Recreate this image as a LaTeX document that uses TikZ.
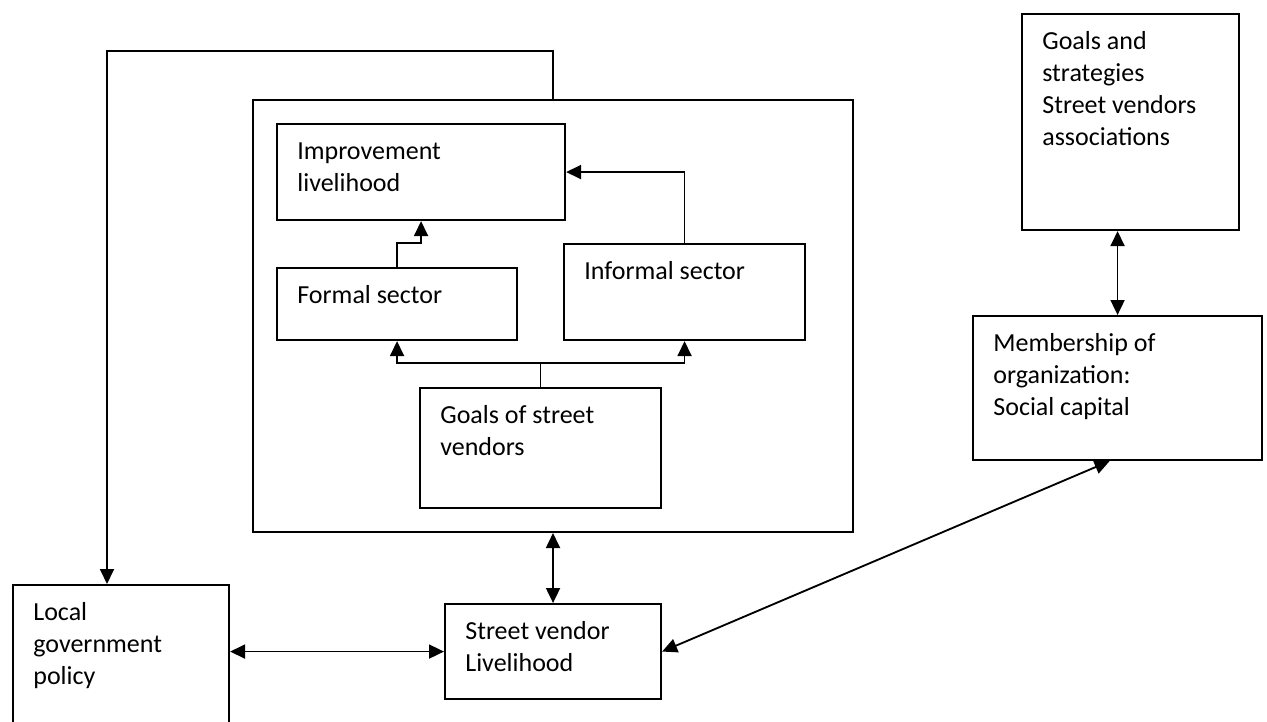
\documentclass[tikz,border=0pt]{standalone}
\usepackage{fontspec}
\setmainfont{Carlito}
\usetikzlibrary{arrows.meta, calc}

\begin{document}
\begin{tikzpicture}[x=0.02cm, y=-0.02cm,
    font=\fontsize{14.8pt}{18.2pt}\selectfont,
    box/.style={draw, line width=1.2pt, anchor=north west, inner sep=0pt},
    boxtext/.style={anchor=north west, align=left, inner sep=0pt},
    wire/.style={line width=1.05pt},
    link/.style={wire, -{Triangle[length=0.3cm, width=0.28cm]}},
    twoway/.style={wire, {Triangle[length=0.3cm, width=0.28cm]}-{Triangle[length=0.3cm, width=0.28cm]}}]
  \useasboundingbox (0,0) rectangle (1267,721);
  \clip (0,0) rectangle (1267,721);

  % A pic for a framed box with its text in the top left corner:
  %   #1 = width, #2 = height (both in px units), #3 = text
  \tikzset{
    pics/textbox/.style n args={3}{
      code={
        \node[box, minimum width=#1*0.02cm, minimum height=#2*0.02cm] (-box) at (0,0) {};
        \node[boxtext] (-text) at (21,13.6) {\strut #3};
      }
    }
  }

  % outer frame round the inner boxes
  \node[box, minimum width=12cm, minimum height=8.64cm] (frame) at (252,99) {};

  \foreach \nm/\bx/\by/\bw/\bh/\txt in {
    imp/276/123/288/96/Improvement\\livelihood,
    formal/276/267/240/72/Formal sector,
    informal/563/243/241/96/Informal sector,
    goals/419/387/241/120/Goals of street\\vendors,
    local/12/584/216/150/Local\\government\\policy,
    svl/444/603/216/95/Street vendor\\Livelihood,
    gsa/1021/13/217/216/Goals and\\strategies\\Street vendors\\associations,
    mem/972/315/289/144/Membership of\\organization:\\Social capital
  }{
    \pic (\nm) at (\bx,\by) {textbox={\bw}{\bh}{\txt}};
  }

  % inside the frame
  \draw[link] (formal-box.north) -- ++(0,-24) -| (imp-box.south);
  \draw[link] (informal-box.north) |- (imp-box.east);
  \draw[wire] (goals-box.north) -- ++(0,-24) coordinate (split);
  \draw[link] (split) -| (formal-box.south);
  \draw[link] (split) -| (informal-box.south);

  % round the frame
  \coordinate (bend) at (107,51);
  \coordinate (govin) at ($(local-box.north west)+(95,0)$);
  \coordinate (memin) at ($(mem-box.south)+(-8,0)$);
  \draw[link] (frame.north) |- (bend) -- (govin);
  \draw[twoway] (frame.south) -- (svl-box.north);
  \draw[twoway] (local-box.east |- svl-box.west) -- (svl-box.west);
  \draw[twoway] (svl-box.east) -- (memin);
  \draw[twoway] (mem-box.north |- gsa-box.south) -- (mem-box.north);
\end{tikzpicture}
\end{document}
